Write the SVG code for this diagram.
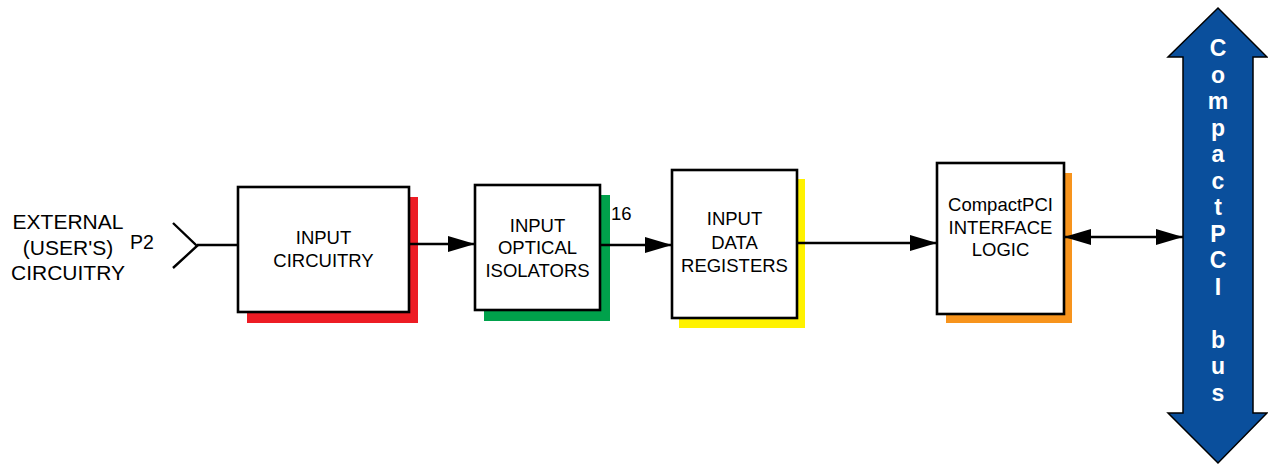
<svg xmlns="http://www.w3.org/2000/svg" width="1268" height="466" viewBox="0 0 1268 466">
<style>
.box{fill:#fff;stroke:#000;stroke-width:2.6}
.t{font-family:"Liberation Sans",Arial,sans-serif;font-size:18.5px;fill:#000;text-anchor:middle}
.lbl{font-family:"Liberation Sans",Arial,sans-serif;fill:#000}
.wire{stroke:#000;stroke-width:2.4;fill:none}
.bus{font-family:"Liberation Sans",Arial,sans-serif;font-size:23px;font-weight:bold;fill:#fff;text-anchor:middle}
</style>
<defs>
<marker id="ah" markerUnits="userSpaceOnUse" markerWidth="28" markerHeight="16" refX="27" refY="8" orient="auto-start-reverse">
<path d="M0,0 L27,8 L0,16 Z" fill="#000"/>
</marker>
</defs>
<rect width="1268" height="466" fill="#fff"/>

<g id="external">
<text class="lbl" font-size="21" text-anchor="middle"><tspan x="68" y="229">EXTERNAL</tspan><tspan x="68" y="255">(USER'S)</tspan><tspan x="68" y="280">CIRCUITRY</tspan></text>
<text class="lbl" font-size="19.5" x="130" y="249">P2</text>
<path class="wire" d="M173,223 L197,246 L173,268"/>
</g>

<g id="input-circuitry">
<rect x="247" y="197" width="171" height="126" fill="#ed1c24"/>
<rect class="box" x="238" y="187" width="171" height="125"/>
<text class="t"><tspan x="323.5" y="243.5">INPUT</tspan><tspan x="323.5" y="266.5">CIRCUITRY</tspan></text>
</g>

<g id="optical-isolators">
<rect x="484" y="195" width="126" height="126" fill="#00a14b"/>
<rect class="box" x="475" y="185" width="125" height="125"/>
<text class="t"><tspan x="537.5" y="231.5">INPUT</tspan><tspan x="537.5" y="253.5">OPTICAL</tspan><tspan x="537.5" y="276.5">ISOLATORS</tspan></text>
</g>

<g id="data-registers">
<rect x="679" y="179" width="126" height="149" fill="#fff200"/>
<rect class="box" x="672" y="170" width="125" height="148"/>
<text class="t"><tspan x="734.5" y="224.5">INPUT</tspan><tspan x="734.5" y="248.5">DATA</tspan><tspan x="734.5" y="271.5">REGISTERS</tspan></text>
</g>

<g id="interface-logic">
<rect x="946" y="173" width="126" height="150" fill="#f7941d"/>
<rect class="box" x="937" y="163" width="127" height="151"/>
<text class="t"><tspan x="1000.5" y="211">CompactPCI</tspan><tspan x="1000.5" y="234">INTERFACE</tspan><tspan x="1000.5" y="256">LOGIC</tspan></text>
</g>

<g id="compactpci-bus">
<polygon points="1218,8 1267,57 1253,57 1253,413 1267,413 1218,463 1168,413 1183,413 1183,57 1168,57" fill="#0a4f9c" stroke="#000" stroke-width="1.5"/>
<text class="bus"><tspan x="1218" y="56">C</tspan><tspan x="1218" y="82.5">o</tspan><tspan x="1218" y="109">m</tspan><tspan x="1218" y="135.5">p</tspan><tspan x="1218" y="162">a</tspan><tspan x="1218" y="188.5">c</tspan><tspan x="1218" y="215">t</tspan><tspan x="1218" y="241.5">P</tspan><tspan x="1218" y="268">C</tspan><tspan x="1218" y="294.5">I</tspan><tspan x="1218" y="347.5">b</tspan><tspan x="1218" y="374">u</tspan><tspan x="1218" y="400.5">s</tspan></text>
</g>

<g id="connectors">
<line class="wire" x1="197" y1="245" x2="238" y2="245"/>
<line class="wire" x1="409" y1="244" x2="475" y2="244" marker-end="url(#ah)"/>
<line class="wire" x1="600" y1="245" x2="672" y2="245" marker-end="url(#ah)"/>
<text class="lbl" font-size="18.5" x="611" y="220">16</text>
<line class="wire" x1="797" y1="243" x2="937" y2="243" marker-end="url(#ah)"/>
<line class="wire" x1="1064" y1="237" x2="1183" y2="237" marker-start="url(#ah)" marker-end="url(#ah)"/>
</g>
</svg>
